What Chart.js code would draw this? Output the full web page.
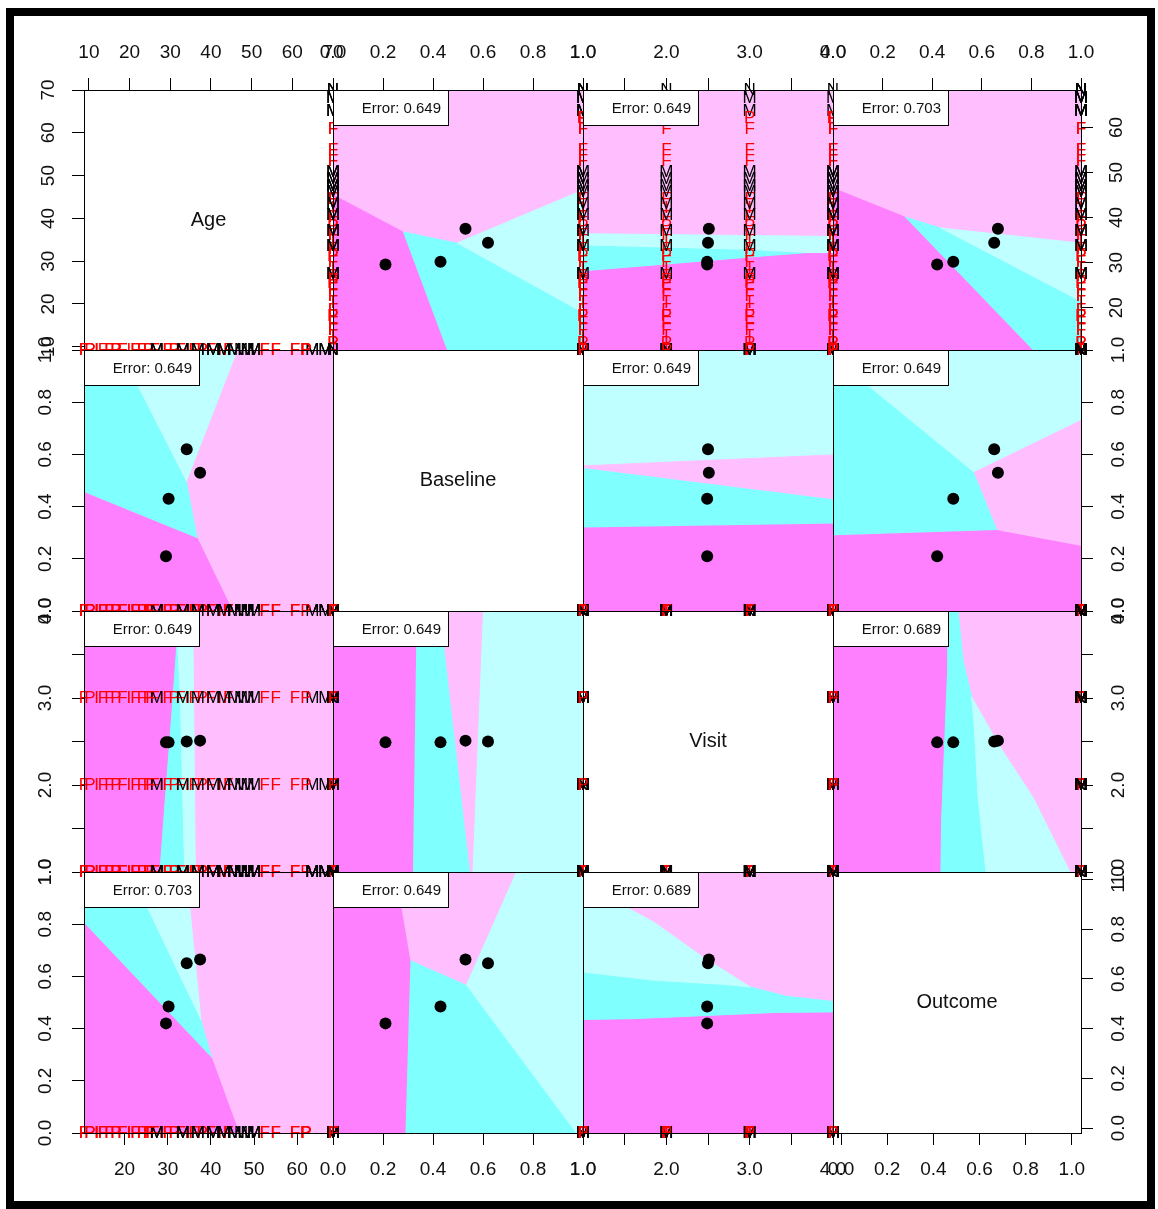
<!DOCTYPE html>
<html>
<head>
<meta charset="utf-8">
<title>Partition plot matrix</title>
<script src="https://cdn.jsdelivr.net/npm/chart.js@4.4.1/dist/chart.umd.min.js"></script>
<style>
  html, body { margin: 0; padding: 0; background: #fff; }
  #stage { position: relative; width: 1158px; height: 1209px; overflow: hidden; background: #fff; }
  #frame { position: absolute; left: 6px; top: 8px; width: 1149px; height: 1201px;
           border: 8px solid #000; box-sizing: border-box; }
  #stage canvas { position: absolute; }
</style>
</head>
<body>
<div id="stage"><div id="frame"></div></div>
<script>
// ---- variables and classes -------------------------------------------------
const VARS = ['Age', 'Baseline', 'Visit', 'Outcome'];
// class order: F, I, M, P  (cyan, light cyan, light pink, magenta)
const CLASS_COLORS = ['#80FFFF', '#BFFFFF', '#FFBFFF', '#FF80FF'];

// class centroids (black dots)
const centroidAge      = [30.2, 34.4, 37.5, 29.6];
const centroidBaseline = [0.43, 0.62, 0.53, 0.21];
const centroidVisit    = [2.49, 2.50, 2.51, 2.49];
const centroidOutcome  = [0.485, 0.65, 0.665, 0.42];

// subjects: age, class letter, and per-visit baseline / outcome
const subjectAge   = [10.6, 12.0, 13.5, 15.0, 16.5, 18.0, 19.5, 21.0, 22.5, 24.0,
                      25.5, 27.0, 28.5, 30.0, 31.5, 33.0, 34.5, 36.0, 38.0, 40.0,
                      42.0, 44.0, 27.5, 33.5, 37.0, 40.5, 43.0, 45.5, 47.0, 48.5,
                      50.0, 52.5, 55.0, 59.5, 63.5, 68.3, 66.5, 26.0, 62.0];
const subjectClass = ['F','P','I','F','F','P','F','I','F','F',
                      'P','F','I','F','P','F','I','F','P','F',
                      'I','F','M','M','M','M','M','M','M','M',
                      'M','F','F','F','M','N','M','F','P'];
const baselineByVisit = [
  [0,1,1,0],[0,0,1,1],[1,0,0,1],[0,1,0,0],[0,0,1,1],[1,1,0,0],[0,1,0,1],[0,0,0,1],[1,0,1,0],[0,1,1,0],
  [0,0,1,1],[1,0,0,1],[0,1,0,0],[0,0,1,1],[1,1,0,0],[0,1,0,1],[0,0,0,1],[1,0,1,0],[0,1,1,0],[0,0,1,1],
  [1,0,0,1],[0,1,0,0],[0,0,1,1],[1,0,0,1],[0,1,1,0],[0,0,1,1],[1,1,0,0],[0,1,0,1],[0,0,0,1],[1,0,1,0],
  [0,1,1,0],[0,0,1,1],[1,0,0,1],[0,1,0,1],[0,0,1,1],[0,1,0,1],[1,0,1,0],[0,0,0,0],[1,1,1,1]];
const outcomeByVisit = [
  [0,0,1,1],[0,1,0,1],[0,0,0,1],[1,0,0,1],[0,1,1,0],[0,0,1,1],[0,1,0,1],[1,0,0,0],[0,0,1,1],[0,1,0,1],
  [1,1,0,0],[0,0,1,1],[0,1,0,1],[0,0,1,1],[1,0,0,1],[0,1,1,0],[0,0,1,1],[1,0,0,1],[0,1,0,1],[0,0,1,1],
  [1,1,0,0],[0,0,1,1],[1,0,1,0],[0,1,0,1],[1,1,0,0],[0,0,1,1],[1,0,0,1],[0,1,1,0],[1,0,1,1],[0,1,0,1],
  [1,1,0,0],[0,0,1,1],[0,1,0,1],[1,0,0,1],[1,1,1,1],[1,1,1,1],[1,1,1,1],[0,0,0,0],[0,0,0,0]];

// ---- classification regions, points given as [first variable, second variable]
const regionsAgeBaseline = [
  { cls: 2, pts: [[68.3,0],[68.3,1],[10.6,1],[10.6,0]] },
  { cls: 3, pts: [[45.0,0],[36.8,0.28],[10.6,0.456],[10.6,0]] },
  { cls: 0, pts: [[36.8,0.28],[34.3,0.496],[18.8,1],[10.6,1],[10.6,0.456]] },
  { cls: 1, pts: [[34.3,0.496],[46.1,1],[18.8,1]] },
];
const regionsAgeVisit = [
  { cls: 2, pts: [[68.3,1],[68.3,4],[10.6,4],[10.6,1]] },
  { cls: 1, pts: [[36.4,1],[35.8,4],[32.0,4],[32.0,3.7],[32.7,3],[33.2,2],[33.7,1]] },
  { cls: 0, pts: [[33.7,1],[33.2,2],[32.7,3],[32.0,3.7],[31.0,3],[29.45,2],[27.95,1]] },
  { cls: 3, pts: [[27.95,1],[29.45,2],[31.0,3],[32.0,3.7],[32.0,4],[10.6,4],[10.6,1]] },
];
const regionsAgeOutcome = [
  { cls: 2, pts: [[68.3,0],[68.3,1],[10.6,1],[10.6,0]] },
  { cls: 3, pts: [[46.5,0],[40.1,0.29],[10.6,0.806],[10.6,0]] },
  { cls: 0, pts: [[40.1,0.29],[37.7,0.431],[21.3,1],[10.6,1],[10.6,0.806]] },
  { cls: 1, pts: [[37.7,0.431],[34.3,1],[21.3,1]] },
];
const regionsBaselineVisit = [
  { cls: 1, pts: [[0,1],[1,1],[1,4],[0,4]] },
  { cls: 3, pts: [[0,1],[0.32,1],[0.335,4],[0,4]] },
  { cls: 0, pts: [[0.32,1],[0.548,1],[0.428,4],[0.335,4]] },
  { cls: 2, pts: [[0.548,1],[0.556,1],[0.598,4],[0.428,4]] },
];
const regionsBaselineOutcome = [
  { cls: 1, pts: [[0,0],[1,0],[1,1],[0,1]] },
  { cls: 3, pts: [[0,0],[0.29,0],[0.31,0.66],[0.25,1],[0,1]] },
  { cls: 2, pts: [[0.25,1],[0.73,1],[0.53,0.567],[0.31,0.66]] },
  { cls: 0, pts: [[0.31,0.66],[0.53,0.567],[0.97,0],[0.29,0]] },
];
const regionsVisitOutcome = [
  { cls: 2, pts: [[1,0],[4,0],[4,1],[1,1]] },
  { cls: 3, pts: [[1,0],[1,0.435],[1.6,0.438],[3.32,0.462],[4,0.464],[4,0]] },
  { cls: 0, pts: [[1,0.435],[1.6,0.438],[3.32,0.462],[4,0.464],[4,0.504],[3.437,0.524],[3.01,0.559],[2.71,0.569],[1.86,0.585],[1,0.617]] },
  { cls: 1, pts: [[1,0.617],[1.86,0.585],[2.71,0.569],[3.01,0.559],[2.44,0.673],[1.86,0.806],[1,0.956]] },
];
const pairRegions = {
  'Age|Baseline': regionsAgeBaseline, 'Age|Visit': regionsAgeVisit, 'Age|Outcome': regionsAgeOutcome,
  'Baseline|Visit': regionsBaselineVisit, 'Baseline|Outcome': regionsBaselineOutcome, 'Visit|Outcome': regionsVisitOutcome,
};
const pairErrors = {
  'Age|Baseline': 0.649, 'Age|Visit': 0.649, 'Age|Outcome': 0.703,
  'Baseline|Visit': 0.649, 'Baseline|Outcome': 0.649, 'Visit|Outcome': 0.689,
};

// ---- scales ----------------------------------------------------------------
const dataRange = { Age: [10.6, 68.3], Baseline: [0, 1], Visit: [1, 4], Outcome: [0, 1] };
const tickStep  = { Age: 10, Baseline: 0.2, Visit: 0.5, Outcome: 0.2 };
// axes printed along the diagonal panels
const ageTopRange      = [8.8, 70];
const ageLeftRange     = [9.25, 70];
const outcomeBottomRange = [-0.035, 1.04];
const outcomeRightRange  = [-0.02, 1.03];

// ---- layout ----------------------------------------------------------------
const colEdges = [84, 333, 583, 833, 1081];
const rowEdges = [90, 350, 611, 872, 1133];
const AXIS = 62, SPILL = 14;
const FONT = '"Liberation Sans", Arial, Helvetica, sans-serif';
Chart.defaults.font.family = FONT;

function tickLabel(name, v) {
  if (name === 'Age') return String(Math.round(v));
  if (name === 'Visit') return Number.isInteger(v) ? v.toFixed(1) : '';
  return v.toFixed(1);
}

function axis(name, range, position, show) {
  const vertical = position === 'left' || position === 'right';
  return {
    type: 'linear', position, display: show, min: range[0], max: range[1],
    grid: { display: show, drawOnChartArea: false, drawTicks: true, tickLength: 12, color: '#000', lineWidth: 1 },
    border: { display: false },
    ticks: {
      display: show, autoSkip: false, includeBounds: false, stepSize: tickStep[name],
      minRotation: vertical ? 90 : 0, maxRotation: vertical ? 90 : 0,
      crossAlign: vertical ? 'center' : 'near', padding: vertical ? 13 : 13.5,
      color: '#111', font: { size: 19, family: FONT },
      callback: v => tickLabel(name, v),
    },
    afterFit(s) {
      if (show) { if (vertical) s.width = AXIS; else s.height = AXIS; }
      else { s.width = vertical ? 0 : s.width; s.height = vertical ? s.height : 0; }
      s.paddingLeft = s.paddingRight = s.paddingTop = s.paddingBottom = 0;
    },
  };
}

const panelDecor = {
  id: 'panelDecor',
  afterDatasetDraw(chart, args) {
    const ds = chart.data.datasets[args.index];
    if (!ds.letterText) return;
    const ctx = chart.ctx;
    ctx.save();
    ctx.font = '17px ' + FONT;
    ctx.textAlign = 'center';
    ctx.textBaseline = 'middle';
    args.meta.data.forEach((pt, i) => {
      ctx.fillStyle = ds.letterColor[i];
      ctx.fillText(ds.letterText[i], pt.x, pt.y);
    });
    ctx.restore();
  },
  afterDatasetsDraw(chart, args, opts) {
    const a = chart.chartArea, ctx = chart.ctx;
    ctx.save();
    if (opts.title) {
      ctx.fillStyle = '#111';
      ctx.font = '20px ' + FONT;
      ctx.textAlign = 'center';
      ctx.textBaseline = 'middle';
      ctx.fillText(opts.title, (a.left + a.right) / 2, (a.top + a.bottom) / 2);
    }
    if (opts.error != null) {
      ctx.fillStyle = '#fff';
      ctx.fillRect(a.left, a.top, 115, 35);
      ctx.strokeStyle = '#000';
      ctx.lineWidth = 1;
      ctx.strokeRect(a.left + 0.5, a.top + 0.5, 115, 35);
      ctx.fillStyle = '#111';
      ctx.font = '15px ' + FONT;
      ctx.textAlign = 'right';
      ctx.textBaseline = 'middle';
      ctx.fillText('Error: ' + opts.error.toFixed(3), a.left + 108, a.top + 19);
    }
    ctx.strokeStyle = '#000';
    ctx.lineWidth = 1;
    ctx.strokeRect(a.left + 0.5, a.top + 0.5, a.right - a.left, a.bottom - a.top);
    ctx.restore();
  },
};

function variableValue(name, s, v) {
  if (name === 'Age') return subjectAge[s];
  if (name === 'Baseline') return baselineByVisit[s][v];
  if (name === 'Visit') return v + 1;
  return outcomeByVisit[s][v];
}
const centroids = { Age: centroidAge, Baseline: centroidBaseline, Visit: centroidVisit, Outcome: centroidOutcome };

const stage = document.getElementById('stage');

for (let r = 0; r < 4; r++) {
  for (let c = 0; c < 4; c++) {
    const xName = VARS[c], yName = VARS[r];
    const diag = r === c;
    const top = r === 0, bottom = r === 3, left = c === 0, right = c === 3;

    let xRange = dataRange[xName], yRange = dataRange[yName];
    if (diag && r === 0) { xRange = ageTopRange; yRange = ageLeftRange; }
    if (diag && r === 3) { xRange = outcomeBottomRange; yRange = outcomeRightRange; }

    const padL = left ? 0 : SPILL, padR = right ? 0 : SPILL;
    const padT = top ? 0 : SPILL, padB = bottom ? 0 : SPILL;
    const w = (left ? AXIS : SPILL) + (colEdges[c + 1] - colEdges[c]) + (right ? AXIS : SPILL);
    const h = (top ? AXIS : SPILL) + (rowEdges[r + 1] - rowEdges[r]) + (bottom ? AXIS : SPILL);

    const canvas = document.createElement('canvas');
    canvas.width = w; canvas.height = h;
    canvas.style.width = w + 'px'; canvas.style.height = h + 'px';
    canvas.style.left = (colEdges[c] - (left ? AXIS : SPILL)) + 'px';
    canvas.style.top = (rowEdges[r] - (top ? AXIS : SPILL)) + 'px';
    stage.appendChild(canvas);

    const datasets = [];
    let error = null;
    if (!diag) {
      const first = Math.min(r, c), second = Math.max(r, c);
      const key = VARS[first] + '|' + VARS[second];
      const swapped = c > r;   // x holds the second variable
      error = pairErrors[key];
      pairRegions[key].forEach((reg, i) => {
        datasets.push({
          type: 'line', showLine: true, order: 100 - i,
          data: reg.pts.map(p => swapped ? { x: p[1], y: p[0] } : { x: p[0], y: p[1] }),
          fill: 'shape', backgroundColor: CLASS_COLORS[reg.cls],
          borderColor: CLASS_COLORS[reg.cls], borderWidth: 1, tension: 0,
          pointRadius: 0, pointHoverRadius: 0, clip: 0,
        });
      });
      const pts = [], text = [], color = [];
      subjectAge.forEach((_, s) => {
        for (let v = 0; v < 4; v++) {
          pts.push({ x: variableValue(xName, s, v), y: variableValue(yName, s, v) });
          text.push(subjectClass[s]);
          color.push(subjectClass[s] === 'M' || subjectClass[s] === 'N' ? '#000000' : '#FF0000');
        }
      });
      datasets.push({
        type: 'scatter', order: 2, data: pts, pointRadius: 0, pointHoverRadius: 0,
        letterText: text, letterColor: color, clip: false,
      });
      datasets.push({
        type: 'scatter', order: 1,
        data: centroids[xName].map((xv, k) => ({ x: xv, y: centroids[yName][k] })),
        pointRadius: 6, pointHoverRadius: 6, pointStyle: 'circle',
        backgroundColor: '#000', borderWidth: 0, clip: false,
      });
    }

    new Chart(canvas, {
      type: 'scatter',
      data: { datasets },
      options: {
        responsive: false, animation: false, devicePixelRatio: 1, events: [],
        layout: { padding: { left: padL, right: padR, top: padT, bottom: padB }, autoPadding: false },
        scales: {
          x: axis(xName, xRange, bottom ? 'bottom' : 'top', top || bottom),
          y: axis(yName, yRange, right ? 'right' : 'left', left || right),
        },
        plugins: {
          legend: { display: false }, tooltip: { enabled: false },
          panelDecor: { title: diag ? yName : null, error },
        },
      },
      plugins: [panelDecor],
    });
  }
}
</script>
</body>
</html>
